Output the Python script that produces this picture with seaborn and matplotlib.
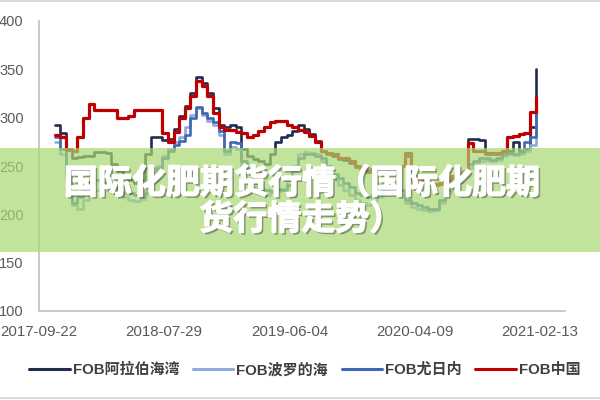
import numpy as np
import pandas as pd
import matplotlib
matplotlib.use("Agg")
import matplotlib.pyplot as plt
import matplotlib.dates as mdates
import matplotlib.patheffects as pe
from matplotlib.patches import Rectangle
from matplotlib.lines import Line2D
import seaborn as sns

# ---------------- data ----------------
dates = pd.date_range(start="2017-10-31", periods=86, freq="14D")

series_names = ["FOB阿拉伯海湾", "FOB波罗的海", "FOB尤日内", "FOB中国"]

arab_gulf = [292, 284, 268, 258, 259, 260, 260, 264, 264, 263,
             252, 245, 240, 236, 232, 236, 262, 280, 280, 277,
             278, 288, 302, 312, 325, 342, 336, 326, 310, 292,
             290, 292, 290, 268, 260, 257, 255, 252, 262, 275,
             280, 282, 286, 292, 288, 283, 276, 265, 262, 260,
             257, 256, 253, 249, 247, 244, 246, 245, 246, 245,
             247, 250, 260, 238, 233, 231, 230, 230, 231, 235,
             238, 240, 242, 278, 278, 277, 262, 262, 262, 263,
             265, 275, 266, 268, 290, 350]

baltic = [275, 262, 235, 210, 205, 215, 220, 225, 228, 225,
          222, 220, 218, 215, 214, 216, 225, 238, 250, 260,
          268, 275, 280, 290, 303, 310, 303, 297, 292, 282,
          262, 270, 268, 250, 242, 228, 222, 220, 222, 224,
          226, 235, 250, 262, 264, 263, 262, 255, 245, 235,
          230, 225, 220, 215, 212, 210, 214, 218, 222, 224,
          226, 220, 212, 208, 206, 204, 203, 204, 212, 222,
          228, 233, 240, 248, 252, 255, 256, 255, 256, 260,
          262, 261, 262, 265, 272, 300]

yuzhny = [280, 268, 240, 212, 218, 225, 232, 235, 232, 230,
          228, 224, 222, 222, 220, 218, 222, 235, 248, 258,
          265, 272, 276, 282, 300, 311, 305, 300, 296, 286,
          265, 275, 274, 255, 248, 232, 226, 225, 224, 226,
          225, 230, 245, 258, 262, 262, 260, 258, 250, 242,
          238, 232, 228, 222, 220, 218, 220, 222, 225, 228,
          230, 225, 215, 212, 210, 208, 205, 206, 215, 225,
          232, 238, 245, 252, 255, 258, 258, 256, 258, 262,
          263, 262, 264, 275, 280, 318]

china = [282, 280, 267, 266, 280, 300, 314, 308, 308, 308,
         308, 300, 300, 302, 308, 308, 308, 308, 308, 284,
         275, 285, 300, 310, 322, 338, 333, 322, 305, 290,
         287, 287, 285, 284, 280, 282, 286, 290, 295, 297,
         297, 292, 290, 287, 285, 281, 275, 266, 263, 262,
         258, 258, 255, 250, 248, 245, 247, 246, 247, 246,
         248, 250, 263, 240, 235, 233, 232, 231, 232, 236,
         240, 242, 243, 274, 266, 265, 263, 263, 263, 265,
         280, 281, 283, 284, 306, 321]

tick_dates = ["2017-09-22", "2018-07-29", "2019-06-04", "2020-04-09", "2021-02-13"]
title_line1 = "国际化肥期货行情（国际化肥期"
title_line2 = "货行情走势）"

colors = {"FOB阿拉伯海湾": "#1f2c4f",
          "FOB波罗的海": "#8faadc",
          "FOB尤日内": "#4068b0",
          "FOB中国": "#c00000"}

df = pd.DataFrame({
    "date": np.tile(dates, 4),
    "value": arab_gulf + baltic + yuzhny + china,
    "series": np.repeat(series_names, len(dates)),
})

# ---------------- plot ----------------
sns.set_theme(style="white")
plt.rcParams["font.family"] = ["Liberation Sans", "Noto Sans CJK SC", "DejaVu Sans"]

fig = plt.figure(figsize=(6, 4), dpi=100)
ax = fig.add_axes([39 / 600, 1 - 311 / 400, (565 - 39) / 600, (311 - 21) / 400])

sns.lineplot(data=df, x="date", y="value", hue="series", hue_order=series_names,
             palette=colors, drawstyle="steps-post", linewidth=1.9,
             legend=False, ax=ax, sort=False)
lines = ax.get_lines()
if len(lines) >= 4:
    lines[3].set_linewidth(2.3)

ax.set_ylim(100, 400)
ax.set_yticks([100, 150, 200, 250, 300, 350, 400])
ax.set_xlim(pd.Timestamp("2017-09-22"), pd.Timestamp("2021-04-16"))
ax.set_xticks([pd.Timestamp(d) for d in tick_dates])
ax.xaxis.set_major_formatter(mdates.DateFormatter("%Y-%m-%d"))
ax.set_xlabel("")
ax.set_ylabel("")
ax.grid(False)
for side in ["top", "right"]:
    ax.spines[side].set_visible(False)
for side in ["left", "bottom"]:
    ax.spines[side].set_color("#bfbfbf")
    ax.spines[side].set_linewidth(1.2)
ax.tick_params(axis="y", length=0, pad=11, labelsize=10.5, labelcolor="#595959")
ax.tick_params(axis="x", length=0, pad=10, labelsize=10.8, labelcolor="#595959")

handles = [Line2D([0], [0], color=colors[n], lw=2.2) for n in series_names]
fig.legend(handles, series_names, loc="center", bbox_to_anchor=(0.508, 0.075),
           ncol=4, frameon=False, handlelength=2.7, handletextpad=0.2,
           columnspacing=0.9, prop={"family": ["Liberation Sans", "Noto Sans CJK SC"],
                                    "weight": "bold", "size": 10.8},
           labelcolor="#404040")

# translucent green banner with title
fig.patches.append(Rectangle((0, 1 - 252 / 400), 1, 104 / 400, transform=fig.transFigure,
                             facecolor="#a8d873", alpha=0.7, edgecolor="none", zorder=10))
shadow = [pe.SimplePatchShadow(offset=(1.5, -1.5), shadow_rgbFace="#333333", alpha=0.45),
          pe.withStroke(linewidth=0.9, foreground="white")]
fig.text(0.503, 1 - 183 / 400, title_line1, ha="center", va="center", color="white",
         fontsize=24.5, fontweight="heavy", family=["Noto Sans CJK SC", "DejaVu Sans"],
         path_effects=shadow, zorder=11)
fig.text(0.502, 1 - 219 / 400, title_line2, ha="center", va="center", color="white",
         fontsize=24.5, fontweight="heavy", family=["Noto Sans CJK SC", "DejaVu Sans"],
         path_effects=shadow, zorder=11)

# thin frame lines at top and bottom of image
fig.add_artist(Line2D([0, 1], [0.997, 0.997], transform=fig.transFigure, color="#d9d9d9", lw=1.5))
fig.add_artist(Line2D([0, 1], [0.004, 0.004], transform=fig.transFigure, color="#d9d9d9", lw=1.5))

fig.savefig("out.png", dpi=100)
